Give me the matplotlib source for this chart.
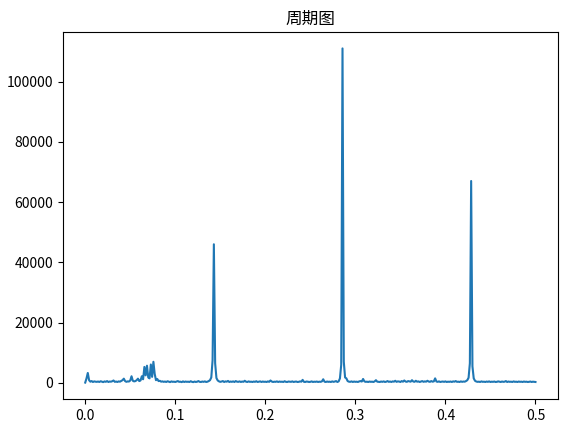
import numpy as np
import matplotlib
matplotlib.use("Agg")
import matplotlib.pyplot as plt

plt.rcParams["font.family"] = ["Noto Sans CJK SC", "DejaVu Sans"]
plt.rcParams["axes.unicode_minus"] = False

# -- Data: periodogram, frequencies k/700 for k = 0..350 -----------------------
n_samples = 700
freqs = np.arange(0, 351) / n_samples

power = [
    100, 1500, 3300, 900, 400, 600, 300, 500, 400, 350,
    450, 300, 550, 400, 250, 500, 350, 600, 300, 450,
    400, 550, 800, 350, 450, 300, 500, 400, 650, 900,
    1400, 600, 350, 500, 450, 800, 2200, 700, 500, 600,
    900, 1400, 600, 800, 2200, 1200, 5300, 2500, 5700, 1800,
    1500, 6100, 2000, 7000, 3000, 900, 1300, 600, 700, 400,
    500, 350, 450, 300, 550, 400, 250, 500, 350, 400,
    300, 450, 600, 350, 400, 250, 500, 300, 450, 350,
    400, 300, 550, 350, 250, 450, 300, 400, 600, 350,
    300, 450, 350, 500, 300, 400, 600, 900, 1800, 7500,
    46000, 6500, 1600, 800, 500, 350, 450, 600, 300, 500,
    400, 650, 300, 450, 350, 500, 300, 600, 400, 350,
    500, 300, 450, 350, 700, 400, 300, 500, 350, 400,
    300, 450, 350, 550, 300, 400, 500, 300, 450, 350,
    400, 300, 500, 350, 800, 450, 300, 400, 350, 500,
    300, 450, 350, 400, 300, 550, 350, 300, 450, 400,
    350, 500, 300, 400, 450, 300, 350, 500, 400, 1000,
    350, 300, 450, 400, 300, 350, 500, 300, 400, 350,
    450, 300, 400, 350, 500, 1200, 400, 300, 450, 350,
    400, 300, 500, 350, 450, 600, 300, 500, 1500, 6000,
    111000, 7000, 1800, 1500, 600, 400, 350, 500, 300, 450,
    350, 400, 300, 500, 600, 450, 1300, 500, 350, 400,
    300, 450, 350, 400, 300, 500, 900, 400, 350, 300,
    450, 350, 500, 300, 400, 600, 350, 450, 300, 500,
    400, 700, 350, 500, 450, 300, 600, 400, 800, 450,
    350, 600, 500, 400, 900, 450, 350, 700, 400, 500,
    300, 450, 600, 350, 500, 400, 700, 450, 350, 600,
    400, 500, 1500, 450, 350, 500, 300, 400, 450, 350,
    500, 300, 400, 350, 450, 300, 500, 400, 600, 350,
    400, 300, 500, 350, 450, 400, 600, 900, 1700, 6500,
    67000, 5500, 1500, 700, 450, 350, 400, 300, 500, 350,
    400, 300, 450, 350, 500, 300, 400, 350, 450, 300,
    350, 500, 400, 300, 450, 350, 400, 600, 300, 450,
    350, 400, 300, 500, 350, 400, 300, 450, 350, 400,
    300, 450, 350, 400, 300, 350, 450, 300, 400, 350,
    300,
]

# -- Figure --------------------------------------------------------------------
fig = plt.figure(figsize=(5.67, 4.32), dpi=100)
ax = fig.add_axes([0.1106, 0.0757, 0.8735, 0.8509])

ax.plot(freqs, power, color="#1f77b4", linewidth=1.5)
ax.set_title("周期图", fontsize=12)
ax.set_xticks([0.0, 0.1, 0.2, 0.3, 0.4, 0.5])
ax.tick_params(labelsize=10)

fig.savefig("out.png", dpi=100)
